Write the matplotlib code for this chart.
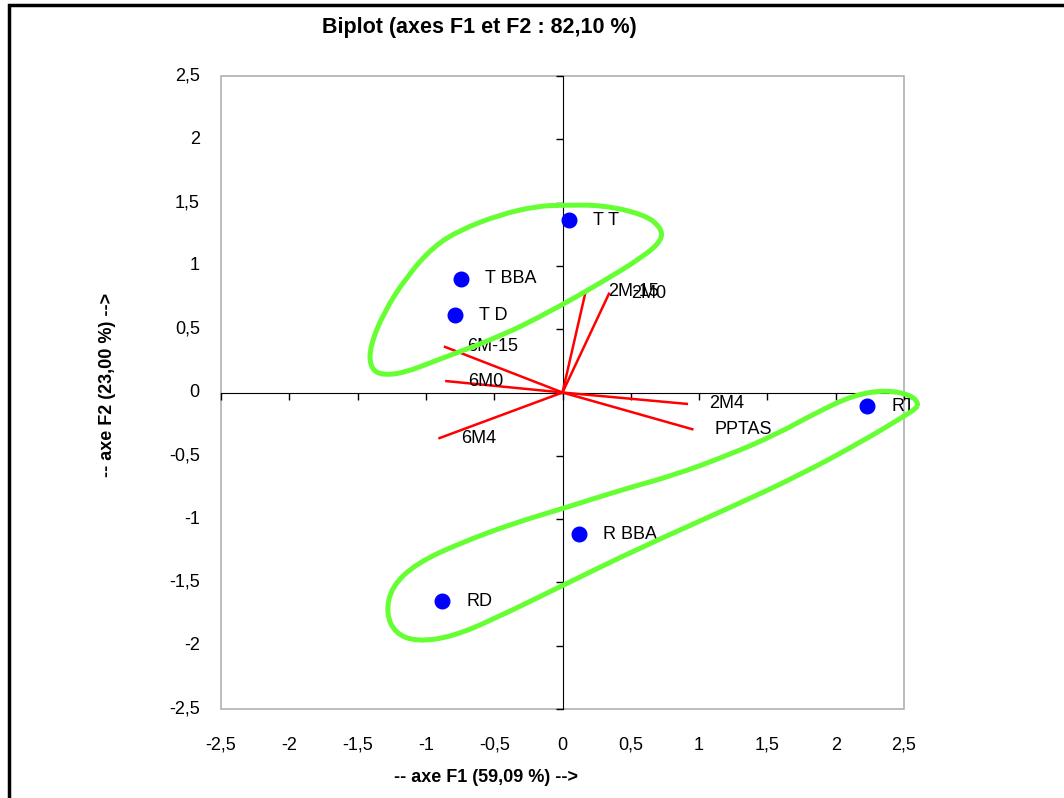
import matplotlib.pyplot as plt
import numpy as np
from matplotlib.patches import Rectangle, PathPatch
from matplotlib.path import Path

plt.rcParams["font.family"] = ["Liberation Sans", "DejaVu Sans"]

# observations (factor scores)
obs_names = ["T T", "T BBA", "T D", "RT", "R BBA", "RD"]
obs_f1 = [0.05, -0.74, -0.79, 2.23, 0.12, -0.88]
obs_f2 = [1.36, 0.90, 0.61, -0.11, -1.12, -1.65]

# variables (loadings)
var_names = ["2M-15", "2M0", "6M-15", "6M0", "6M4", "2M4", "PPTAS"]
var_f1 = [0.17, 0.34, -0.86, -0.85, -0.90, 0.91, 0.95]
var_f2 = [0.80, 0.78, 0.36, 0.09, -0.36, -0.09, -0.29]

# hand drawn group outlines
group_t_f1 = [0.006, -0.189, -0.458, -0.750, -0.946, -1.141, -1.312, -1.409, -1.409,
              -1.336, -1.165, -0.915, -0.458, -0.092, 0.275, 0.592, 0.730, 0.720,
              0.600, 0.299]
group_t_f2 = [1.480, 1.472, 1.405, 1.284, 1.152, 0.915, 0.626, 0.362, 0.204,
              0.138, 0.152, 0.257, 0.441, 0.638, 0.863, 1.073, 1.205, 1.305,
              1.405, 1.480]

group_r_f1 = [2.605, 2.553, 2.369, 2.133, 1.870, 1.556, 1.215, 0.821, 0.428, 0.007,
              -0.359, -0.753, -1.068, -1.252, -1.291, -1.225, -1.068, -0.806,
              -0.491, 0.007, 0.559, 1.215, 1.739, 2.212, 2.474, 2.592]
group_r_f2 = [-0.085, -0.020, 0.020, -0.020, -0.152, -0.336, -0.494, -0.652, -0.770,
              -0.915, -1.033, -1.191, -1.349, -1.534, -1.744, -1.902, -1.968, -1.929,
              -1.784, -1.521, -1.231, -0.915, -0.652, -0.375, -0.204, -0.125]

ticks = [-2.5, -2, -1.5, -1, -0.5, 0, 0.5, 1, 1.5, 2, 2.5]
tick_labels = ["-2,5", "-2", "-1,5", "-1", "-0,5", "0", "0,5", "1", "1,5", "2", "2,5"]


def closed_curve(xs, ys):
    pts = np.column_stack([xs, ys])
    mids = (pts + np.roll(pts, -1, axis=0)) / 2
    verts = [mids[-1]]
    codes = [Path.MOVETO]
    for i in range(len(pts)):
        verts += [pts[i], mids[i]]
        codes += [Path.CURVE3, Path.CURVE3]
    return Path(verts, codes)


fig = plt.figure(figsize=(10.64, 7.98), dpi=100)
ax = fig.add_axes([221 / 1064, 1 - 709 / 798, 683 / 1064, 633 / 798])

ax.set_xlim(-2.5, 2.5)
ax.set_ylim(-2.5, 2.5)
ax.set_xticks(ticks)
ax.set_yticks(ticks)
ax.spines["left"].set_position(("data", 0))
ax.spines["bottom"].set_position(("data", 0))
ax.spines["top"].set_visible(False)
ax.spines["right"].set_visible(False)
ax.tick_params(direction="out", length=5, width=1, labelbottom=False, labelleft=False)
ax.add_patch(Rectangle((0, 0), 1, 1, transform=ax.transAxes, fill=False,
                       ec="#b0b0b0", lw=1.2, clip_on=False))

for t, lbl in zip(ticks, tick_labels):
    ax.text(t, -0.057, lbl, transform=ax.get_xaxis_transform(), ha="center",
            va="center", fontsize=13)
    ax.text(-0.031, t, lbl, transform=ax.get_yaxis_transform(), ha="right",
            va="center", fontsize=13)

# variable vectors
for name, x, y in zip(var_names, var_f1, var_f2):
    ax.plot([0, x], [0, y], color="red", lw=1.8, zorder=3)
    ax.annotate(name, (x, y), xytext=(22, 0), textcoords="offset pixels",
                ha="left", va="center", fontsize=13, zorder=4)

# observations
ax.plot(obs_f1, obs_f2, "o", color="blue", ms=10.5, zorder=4)
for name, x, y in zip(obs_names, obs_f1, obs_f2):
    ax.annotate(name, (x, y), xytext=(24, 0), textcoords="offset pixels",
                ha="left", va="center", fontsize=13, zorder=4)

for gx, gy in [(group_t_f1, group_t_f2), (group_r_f1, group_r_f2)]:
    ax.add_patch(PathPatch(closed_curve(gx, gy), fill=False, ec="#66ff33",
                           lw=3.6, zorder=6, clip_on=False))

fig.text(479 / 1064, 1 - 27 / 798, "Biplot (axes F1 et F2 : 82,10 %)",
         ha="center", va="center", fontsize=15.5, fontweight="bold")
fig.text(486 / 1064, 1 - 778 / 798, "-- axe F1 (59,09 %) -->",
         ha="center", va="center", fontsize=13, fontweight="bold")
fig.text(107 / 1064, 1 - 385 / 798, "-- axe F2 (23,00 %) -->", rotation=90,
         ha="center", va="center", fontsize=13, fontweight="bold")

fig.add_artist(Rectangle((9 / 1064, -0.05), 1.2, 1.05 - 5 / 798,
                         transform=fig.transFigure, fill=False, ec="black", lw=2.5))

fig.savefig("out.png", dpi=100)
